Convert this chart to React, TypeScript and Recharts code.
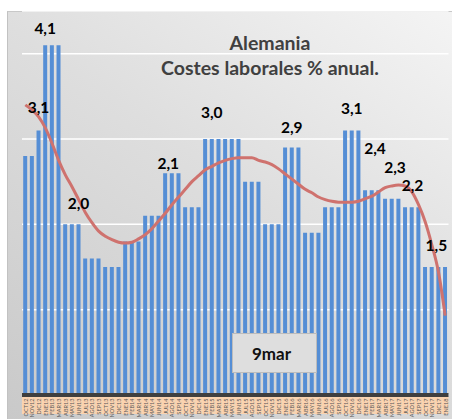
import React from 'react';
import { ComposedChart, Bar, Line, XAxis, YAxis, CartesianGrid, LabelList } from 'recharts';

const months = [
  'OCT12', 'NOV12', 'DIC12',
  'ENE13', 'FEB13', 'MAR13', 'ABR13', 'MAY13', 'JUN13', 'JUL13', 'AGO13', 'SEP13', 'OCT13', 'NOV13', 'DIC13',
  'ENE14', 'FEB14', 'MAR14', 'ABR14', 'MAY14', 'JUN14', 'JUL14', 'AGO14', 'SEP14', 'OCT14', 'NOV14', 'DIC14',
  'ENE15', 'FEB15', 'MAR15', 'ABR15', 'MAY15', 'JUN15', 'JUL15', 'AGO15', 'SEP15', 'OCT15', 'NOV15', 'DIC15',
  'ENE16', 'FEB16', 'MAR16', 'ABR16', 'MAY16', 'JUN16', 'JUL16', 'AGO16', 'SEP16', 'OCT16', 'NOV16', 'DIC16',
  'ENE17', 'FEB17', 'MAR17', 'ABR17', 'MAY17', 'JUN17', 'JUL17', 'AGO17', 'SEP17', 'OCT17', 'NOV17', 'DIC17',
  'ENE18',
];

const costs = [
  2.8, 2.8, 3.1,
  4.1, 4.1, 4.1,
  2.0, 2.0, 2.0,
  1.6, 1.6, 1.6,
  1.5, 1.5, 1.5,
  1.8, 1.8, 1.8,
  2.1, 2.1, 2.1,
  2.6, 2.6, 2.6,
  2.2, 2.2, 2.2,
  3.0, 3.0, 3.0, 3.0, 3.0, 3.0,
  2.5, 2.5, 2.5,
  2.0, 2.0, 2.0,
  2.9, 2.9, 2.9,
  1.9, 1.9, 1.9,
  2.2, 2.2, 2.2,
  3.1, 3.1, 3.1,
  2.4, 2.4, 2.4,
  2.3, 2.3, 2.3,
  2.2, 2.2, 2.2,
  1.5, 1.5, 1.5, 1.5,
];

const trend = [
  3.40, 3.34, 3.26, 3.13, 2.95, 2.75, 2.58, 2.44, 2.29, 2.14,
  2.02, 1.92, 1.86, 1.82, 1.79, 1.78, 1.79, 1.83, 1.88, 1.95,
  2.04, 2.13, 2.23, 2.32, 2.41, 2.50, 2.57, 2.64, 2.68, 2.72,
  2.75, 2.77, 2.78, 2.78, 2.78, 2.75, 2.73, 2.70, 2.65, 2.59,
  2.53, 2.47, 2.41, 2.37, 2.32, 2.29, 2.27, 2.26, 2.26, 2.26,
  2.27, 2.30, 2.33, 2.38, 2.43, 2.45, 2.46, 2.45, 2.38, 2.23,
  2.03, 1.76, 1.44, 0.93,
];

const labels = [
  '', '', '3,1', '4,1', '', '', '', '', '2,0', '',
  '', '', '', '', '', '', '', '', '', '',
  '', '', '2,1', '', '', '', '', '', '3,0', '',
  '', '', '', '', '', '', '', '', '', '',
  '2,9', '', '', '', '', '', '', '', '', '3,1',
  '', '', '2,4', '', '', '2,3', '', '', '2,2', '',
  '', '', '1,5', '',
];

const yTicks = [0, 1, 2, 3, 4];

const data = months.map((m, i) => ({ month: m, cost: costs[i], trend: trend[i], label: labels[i] }));

const FONT = 'Lato, "Open Sans", sans-serif';

// manual nudges for the data labels (dx, dy from bar top centre)
const labelNudge: Record<number, [number, number]> = {
  2: [0, -23], 3: [0, -17], 8: [0, -21], 22: [-3.5, -10], 28: [0, -27],
  40: [0, -21], 49: [0, -22], 52: [3.3, -42], 55: [3.3, -32], 58: [0.8, -22], 62: [-2, -22],
};

const renderLabel = (props: any) => {
  const { x, y, width, value, index } = props;
  if (!value) return null;
  const n = labelNudge[index] || [0, -20];
  return (
    <text
      x={Number(x) + Number(width) / 2 + n[0]}
      y={Number(y) + n[1]}
      textAnchor="middle"
      dominantBaseline="central"
      fontFamily={FONT}
      fontWeight="bold"
      fontSize={15.5}
      fill="#000"
    >
      {value}
    </text>
  );
};

const XTick = (props: any) => {
  const { x, y, payload } = props;
  return (
    <g>
      <rect x={x - 3.4} y={y} width={6.8} height={17} fill="#FAD3B0" />
      <text
        transform={`translate(${x},${y + 1.5}) rotate(-90)`}
        textAnchor="end"
        dominantBaseline="central"
        fontSize={5.6}
        fontFamily={FONT}
        fill="#5a5a5a"
      >
        {payload.value}
      </text>
    </g>
  );
};

export default function App() {
  return (
    <div style={{ position: 'absolute', left: 0, top: 0, width: 452, height: 419, background: '#fff', overflow: 'hidden' }}>
      <div
        style={{
          position: 'absolute', left: 7, top: 11, width: 445, height: 408, boxSizing: 'border-box',
          borderLeft: '1.5px solid #c2c2c2', borderTop: '1.5px solid #c8c8c8',
          background: 'linear-gradient(215deg, #f4f4f4 0%, #dedede 45%, #c9c9c9 100%)',
        }}
      />
      <div style={{ position: 'absolute', left: 0, top: 0 }}>
        <ComposedChart width={452} height={419} data={data} margin={{ top: 11, right: 3.5, bottom: 0, left: 22 }} barCategoryGap="18%">
          <CartesianGrid vertical={false} stroke="#ffffff" strokeWidth={1.5} />
          <YAxis hide domain={[0, 4.5]} ticks={yTicks} />
          <XAxis
            dataKey="month"
            interval={0}
            tickLine={false}
            tickSize={0}
            tickMargin={2}
            height={24}
            axisLine={{ stroke: '#3f3f3f', strokeWidth: 4 }}
            tick={<XTick />}
          />
          <Bar dataKey="cost" fill="#558ED5" isAnimationActive={false}>
            <LabelList dataKey="label" content={renderLabel} />
          </Bar>
          <Line type="monotone" dataKey="trend" stroke="#CF726E" strokeWidth={3} dot={false} activeDot={false} isAnimationActive={false} />
        </ComposedChart>
      </div>
      <div style={{ position: 'absolute', left: 110, top: 32, width: 320, textAlign: 'center', fontFamily: FONT, fontWeight: 'bold', fontSize: 19.5, lineHeight: '22px', color: '#404040' }}>
        Alemania
      </div>
      <div style={{ position: 'absolute', left: 110, top: 57, width: 320, textAlign: 'center', fontFamily: FONT, fontWeight: 'bold', fontSize: 19.5, lineHeight: '22px', color: '#404040' }}>
        Costes laborales % anual.
      </div>
      <div
        style={{
          position: 'absolute', left: 232, top: 333, width: 85, height: 40, boxSizing: 'border-box',
          background: '#dedede', border: '1.5px solid #bcbcbc', fontFamily: FONT, fontWeight: 'bold',
          fontSize: 17, color: '#111', display: 'flex', alignItems: 'center', justifyContent: 'center', paddingRight: 6,
        }}
      >
        9mar
      </div>
    </div>
  );
}
